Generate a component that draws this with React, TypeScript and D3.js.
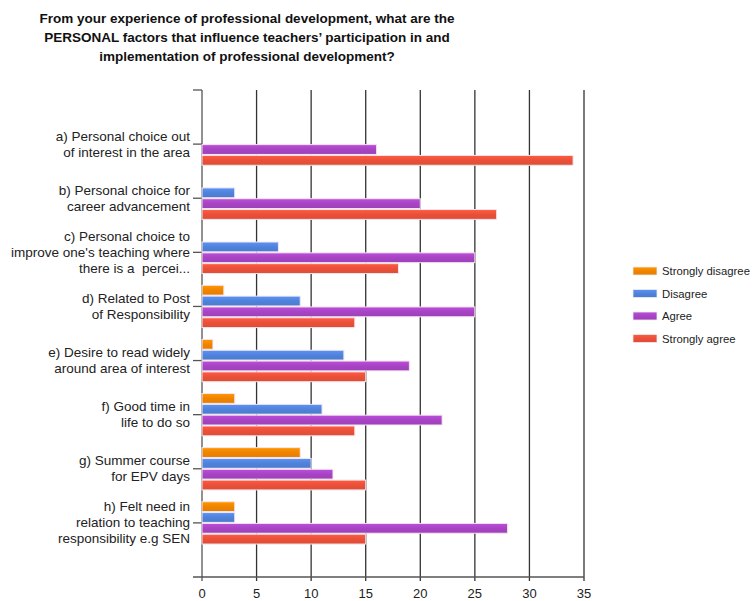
import React from "react";
import * as d3 from "d3";

const titleLines = [
  "From your experience of professional development, what are the",
  "PERSONAL factors that influence teachers\u2019 participation in and",
  "implementation of professional development?",
];

const categories = [
  ["a) Personal choice out", "of interest in the area"],
  ["b) Personal choice for", "career advancement"],
  ["c) Personal choice to", "improve one's teaching where", "there is a  percei..."],
  ["d) Related to Post", "of Responsibility"],
  ["e) Desire to read widely", "around area of interest"],
  ["f) Good time in", "life to do so"],
  ["g) Summer course", "for EPV days"],
  ["h) Felt need in", "relation to teaching", "responsibility e.g SEN"],
];

const seriesNames = ["Strongly disagree", "Disagree", "Agree", "Strongly agree"];
const seriesColors = ["#f08400", "#4f82da", "#a744c3", "#ea5039"];

const stronglyDisagree = [0, 0, 0, 2, 1, 3, 9, 3];
const disagree = [0, 3, 7, 9, 13, 11, 10, 3];
const agree = [16, 20, 25, 25, 19, 22, 12, 28];
const stronglyAgree = [34, 27, 18, 14, 15, 14, 15, 15];

const xTicks = [0, 5, 10, 15, 20, 25, 30, 35];

const FONT = "'Liberation Sans', Arial, sans-serif";

export default function App() {
  const W = 755;
  const H = 601;
  const left = 202;
  const right = 584;
  const top = 90;
  const bottom = 577;
  const x = d3.scaleLinear().domain([0, 35]).range([left, right]);
  const step = (bottom - top) / (categories.length + 1);
  const y = d3
    .scalePoint<number>()
    .domain(d3.range(categories.length))
    .range([top + step, bottom - step]);
  const group = step * 0.8;
  const inner = d3
    .scaleBand<number>()
    .domain(d3.range(seriesNames.length))
    .range([-group / 2, group / 2]);
  const values = [stronglyDisagree, disagree, agree, stronglyAgree];

  return (
    <svg width={W} height={H} style={{ position: "absolute", left: 0, top: 0 }}>
      <defs>
        {seriesColors.map((c, i) => (
          <linearGradient key={i} id={`g${i}`} x1="0" y1="0" x2="0" y2="1">
            <stop offset="0" stopColor={d3.color(c)!.brighter(0.35).formatHex()} />
            <stop offset="0.5" stopColor={c} />
            <stop offset="1" stopColor={d3.color(c)!.darker(0.15).formatHex()} />
          </linearGradient>
        ))}
      </defs>
      <rect width={W} height={H} fill="#fff" />
      {titleLines.map((t, i) => (
        <text
          key={i}
          x={247}
          y={23 + i * 19}
          textAnchor="middle"
          fontFamily={FONT}
          fontWeight="bold"
          fontSize={13.5}
          fill="#111"
        >
          {t}
        </text>
      ))}
      {/* gridlines */}
      {xTicks.map((t) => (
        <line
          key={t}
          x1={x(t)}
          x2={x(t)}
          y1={top}
          y2={bottom + 4}
          stroke={t === 0 ? "#555" : "#333"}
          strokeWidth={1.3}
        />
      ))}
      {/* x axis */}
      <line x1={193} x2={right} y1={bottom} y2={bottom} stroke="#555" strokeWidth={1.3} />
      {xTicks.map((t) => (
        <text
          key={t}
          x={x(t)}
          y={bottom + 21}
          textAnchor="middle"
          fontFamily={FONT}
          fontSize={13}
          fill="#222"
        >
          {t}
        </text>
      ))}
      {/* y ticks */}
      <line x1={193} x2={left} y1={top} y2={top} stroke="#555" strokeWidth={1.3} />
      {categories.map((lines, i) => {
        const cy = y(i)!;
        return (
          <g key={i}>
            <line x1={193} x2={left} y1={cy} y2={cy} stroke="#555" strokeWidth={1.3} />
            {lines.map((l, j) => (
              <text
                key={j}
                x={190}
                y={cy + (j - (lines.length - 1) / 2) * 16 + 4.5}
                textAnchor="end"
                fontFamily={FONT}
                fontSize={13.5}
                fill="#222"
                style={{ whiteSpace: "pre" }}
              >
                {l}
              </text>
            ))}
          </g>
        );
      })}
      {/* bars */}
      {values.map((vals, s) =>
        vals.map((v, i) =>
          v > 0 ? (
            <rect
              key={`${s}-${i}`}
              x={x(0)}
              y={y(i)! + inner(s)! + 0.5}
              width={x(v) - x(0)}
              height={inner.bandwidth() - 1}
              fill={`url(#g${s})`}
              stroke="#f4e6ee"
              strokeWidth={1}
            />
          ) : null
        )
      )}
      {/* legend */}
      {seriesNames.map((n, i) => (
        <g key={n} transform={`translate(633, ${271 + i * 22.5})`}>
          <rect x={0} y={-4} width={24} height={8} fill={`url(#g${i})`} stroke="#eee" strokeWidth={0.8} />
          <text x={29} y={4} fontFamily={FONT} fontSize={11.3} fill="#222">
            {n}
          </text>
        </g>
      ))}
    </svg>
  );
}
